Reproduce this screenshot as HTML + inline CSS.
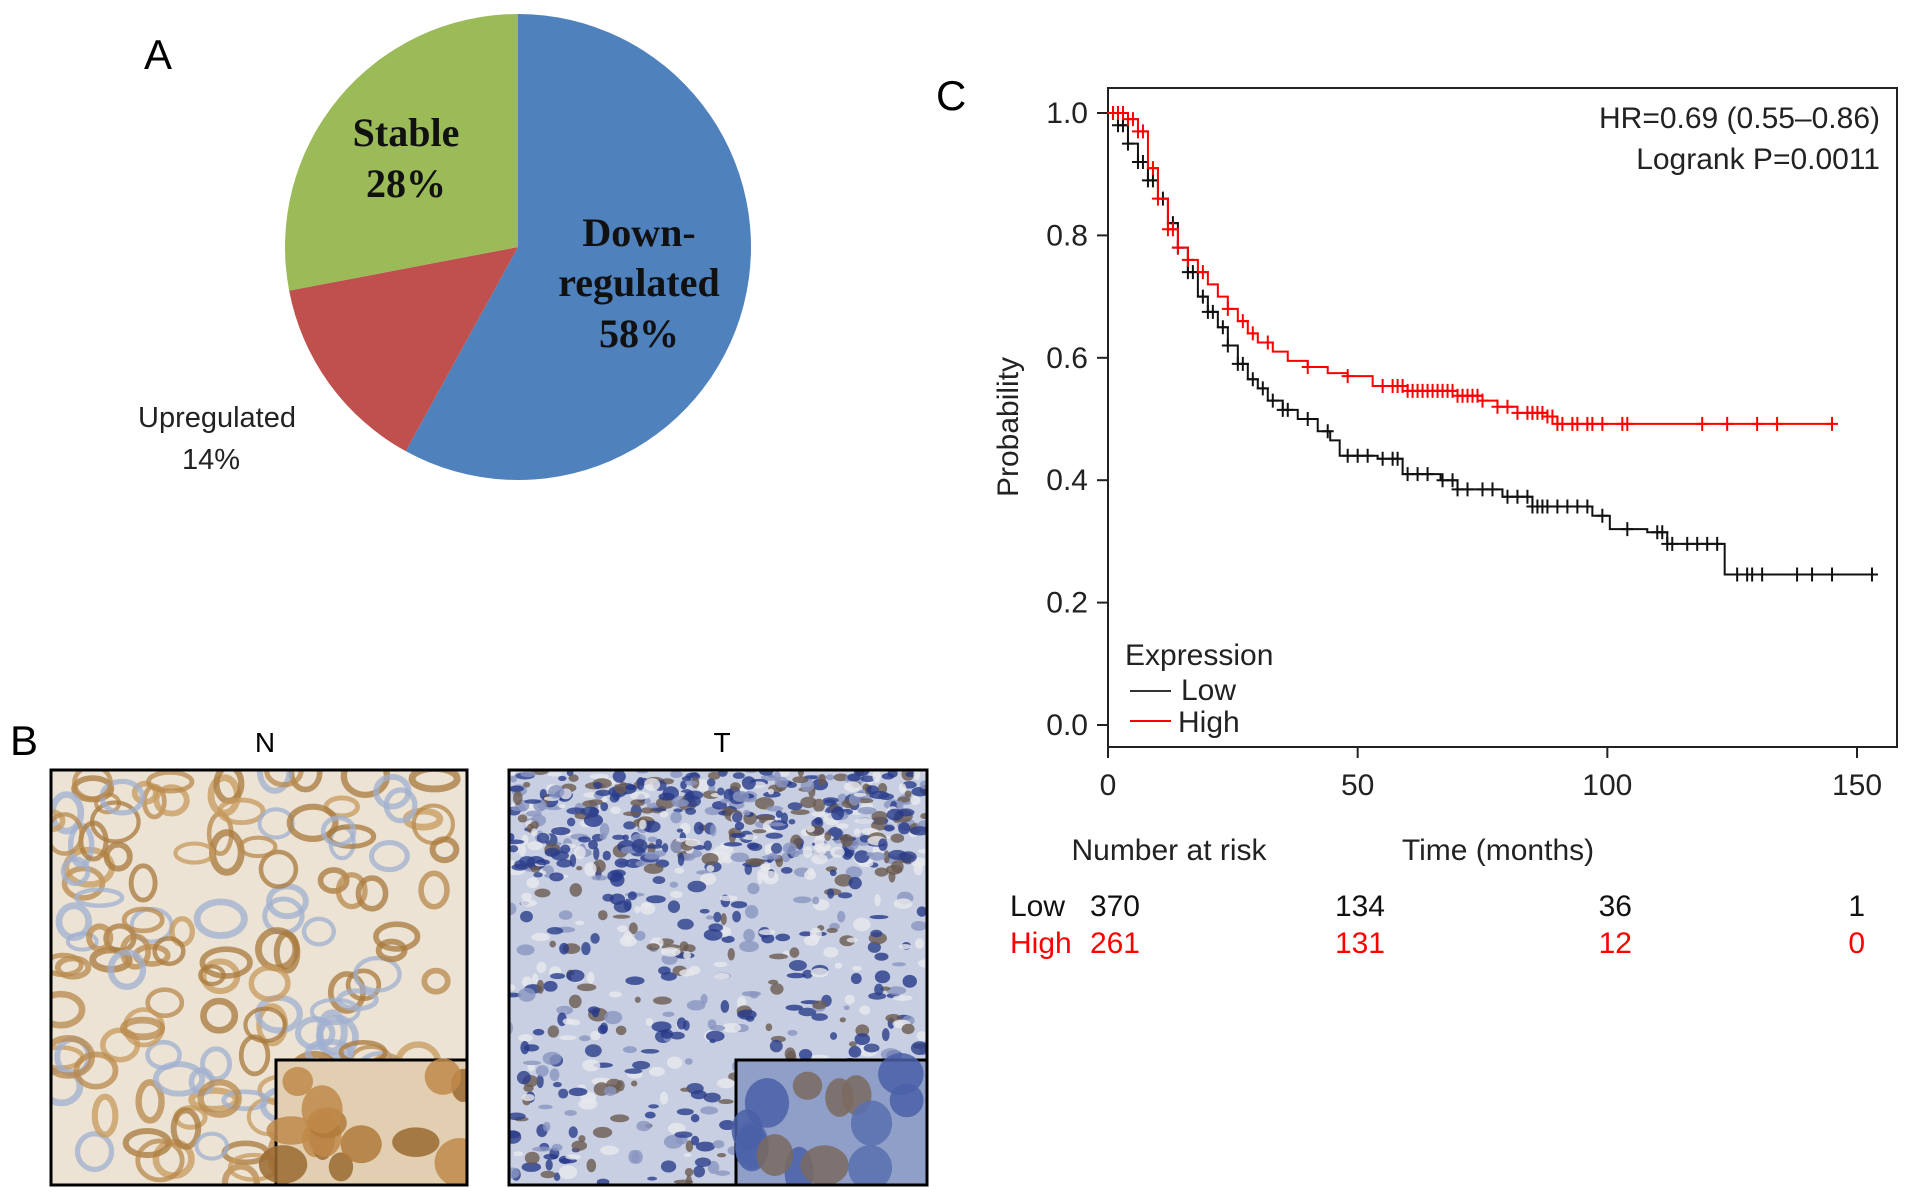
<!DOCTYPE html>
<html><head><meta charset="utf-8">
<style>
html,body{margin:0;padding:0;background:#fff;}
body{width:1913px;height:1200px;overflow:hidden;position:relative;font-family:"Liberation Sans",Arial,sans-serif;}
svg{position:absolute;left:0;top:0;}
</style></head>
<body>
<svg id="fig" width="1913" height="1200" viewBox="0 0 1913 1200" xmlns="http://www.w3.org/2000/svg">
  <g id="pieG"></g>
  <text x="144" y="69" font-size="42" font-family="Liberation Sans, sans-serif">A</text>
  <g font-family="Liberation Serif, serif" font-weight="bold" font-size="40" text-anchor="middle" fill="#111">
    <text x="406" y="146">Stable</text>
    <text x="406" y="197">28%</text>
    <text x="639" y="246">Down-</text>
    <text x="639" y="296">regulated</text>
    <text x="639" y="347">58%</text>
  </g>
  <g font-family="Liberation Sans, sans-serif" font-size="29" text-anchor="middle" fill="#222">
    <text x="217" y="427">Upregulated</text>
    <text x="211" y="469">14%</text>
  </g>

  <text x="10" y="755" font-size="42">B</text>
  <text x="265" y="752" font-size="28" text-anchor="middle">N</text>
  <text x="722" y="752" font-size="28" text-anchor="middle">T</text>
  <g id="histN"></g>
  <g id="histT"></g>

  <text x="936" y="110" font-size="42">C</text>
  <g id="km"></g>
</svg>
<script>
// ---- pie data ----
const pieLabels = ["Down-regulated","Upregulated","Stable"];
const pieValues = [58,14,28];
const pieColors = ["#4f81bd","#c0504d","#9bbb59"];

// ---- KM data ----
const xTicks = [0,50,100,150];
const yTicks = [0.0,0.2,0.4,0.6,0.8,1.0];
const yTickLabels = ["0.0","0.2","0.4","0.6","0.8","1.0"];
const lowTimes = [0,2,4,6,8,10,12,14,16,18,20,22,24,26,28,30,32,35,38,42,44.5,46.4,54,59,66.6,70,79,85,97,100.5,108,112,123.5,153];
const lowSurv  = [1.0,0.98,0.95,0.92,0.89,0.86,0.82,0.78,0.74,0.70,0.675,0.65,0.62,0.59,0.565,0.55,0.53,0.515,0.50,0.48,0.465,0.44,0.435,0.41,0.40,0.385,0.373,0.357,0.342,0.32,0.315,0.296,0.246,0.246];
const highTimes = [0,4,6,8,10,12,14,16,18,20,22,24,26,28,30,33,36,40,44,48,53,60,70,75,78,82,88,90,145];
const highSurv  = [1.0,0.99,0.97,0.91,0.86,0.81,0.78,0.76,0.74,0.72,0.70,0.68,0.66,0.64,0.625,0.61,0.595,0.585,0.575,0.57,0.554,0.546,0.538,0.53,0.52,0.51,0.504,0.492,0.492];
const lowCensor = [1,2,3,4,6,7,8,9,11,13,14,16,17,19,20,21,23,24,26,27,29,31,33,35,36,40,44,48,50,52,55,57,58,60,62,64,67,69,70,72,75,77,80,82,84,85,86,87,88,90,92,94,96,99,104,110,111,112,113,116,118,120,122,126,128,129,131,138,141,145,153];
const highCensor = [1,2,3,4,5,6,7,9,10,12,13,14,16,19,24,27,29,32,40,48,55,57,58,59,60,61,62,63,64,65,66,67,68,69,70,71,72,73,74,75,78,80,82,84,85,86,87,88,89,90,91,93,94,96,97,99,103,104,119,124,130,134,145];
const riskLow = ["370","134","36","1"];
const riskHigh = ["261","131","12","0"];

const NS="http://www.w3.org/2000/svg";
function mk(tag,attrs,parent){const e=document.createElementNS(NS,tag);for(const k in attrs)e.setAttribute(k,attrs[k]);parent.appendChild(e);return e;}

// pie
(function(){
  const g=document.getElementById('pieG');
  const cx=518,cy=247,r=233;
  const total=pieValues.reduce((a,b)=>a+b,0);
  let a0=0;
  pieValues.forEach((v,i)=>{
    const a1=a0+v/total*2*Math.PI;
    const x0=cx+r*Math.sin(a0),y0=cy-r*Math.cos(a0),x1=cx+r*Math.sin(a1),y1=cy-r*Math.cos(a1);
    const large=(a1-a0)>Math.PI?1:0;
    const p=mk('path',{d:`M${cx},${cy}L${x0},${y0}A${r},${r} 0 ${large} 1 ${x1},${y1}Z`,fill:pieColors[i]},g);
    
    
    a0=a1;
  });
})();

// histology placeholders (decorative texture)
function rng(seed){return function(){seed=(seed*16807)%2147483647;return seed/2147483647;};}
function hist(id,x,y,w,h,bg,cols,n,ix,iw,ih,ibg,icols,seed,ring,topDark){
  const g=document.getElementById(id);
  const cpId=id+'clip';
  const defs=mk('defs',{},g);const cp=mk('clipPath',{id:cpId},defs);mk('rect',{x,y,width:w,height:h},cp);
  const gg=mk('g',{'clip-path':`url(#${cpId})`},g);
  mk('rect',{x,y,width:w,height:h,fill:bg},gg);
  const R=rng(seed);
  for(let i=0;i<n;i++){
    const c=cols[Math.floor(R()*cols.length)];
    const ex=x+R()*w;
    let ey=y+R()*h;
    if(topDark && R()<0.35) ey=y+R()*h*0.25;
    const rx=ring?10+R()*14:3+R()*7,ry=ring?8+R()*12:2+R()*5;
    if(ring) mk('ellipse',{cx:ex,cy:ey,rx,ry,fill:'none',stroke:c,'stroke-width':4+R()*3,opacity:0.75},gg);
    else mk('ellipse',{cx:ex,cy:ey,rx,ry,fill:c,opacity:0.8},gg);
  }
  mk('rect',{x:ix,y:y+h-ih,width:iw,height:ih,fill:ibg,stroke:'#000','stroke-width':3},gg);
  for(let i=0;i<14;i++){
    const c=icols[Math.floor(R()*icols.length)];
    mk('ellipse',{cx:ix+R()*iw,cy:y+h-ih+R()*ih,rx:12+R()*14,ry:14+R()*12,fill:c,opacity:0.85},gg);
  }
  mk('rect',{x,y,width:w,height:h,fill:'none',stroke:'#000','stroke-width':3},g);
}
hist('histN',51,770,416,415,'#ece3d4',['#b88a4c','#c79a5c','#a87a3c','#a0b0d0'],150,276,191,125,'#e2cfb2',['#b07a3a','#c08a4a','#9a6a30'],7,true,false);
hist('histT',509,770,418,415,'#c8cfe2',['#2c3f8c','#26388a','#6a5a50','#8a95c0','#e8e8ee'],950,736,191,125,'#8f9fc8',['#5870b0','#7a6a60','#4a60a8'],13,false,true);

// KM chart
(function(){
  const g=document.getElementById('km');
  const L=1108,R=1897,T=88,B=747;
  const xs=t=>1108+t*(1857-1108)/150;
  const ys=p=>725-p*612;
  const box=mk('rect',{x:L,y:T,width:R-L,height:B-T,fill:'none',stroke:'#222','stroke-width':2},g);
  
  
  xTicks.forEach(t=>{
    mk('line',{x1:xs(t),x2:xs(t),y1:B,y2:B+11,stroke:'#222','stroke-width':2},g);
    const tx=mk('text',{x:xs(t),y:795,'font-size':30,'text-anchor':'middle',fill:'#222'},g);tx.textContent=t;
    
    
  });
  yTicks.forEach((p,i)=>{
    mk('line',{x1:L-11,x2:L,y1:ys(p),y2:ys(p),stroke:'#222','stroke-width':2},g);
    const tx=mk('text',{x:1088,y:ys(p)+10,'font-size':30,'text-anchor':'end',fill:'#222'},g);tx.textContent=yTickLabels[i];
    
    
  });
  const yl=mk('text',{x:0,y:0,'font-size':30,'text-anchor':'middle',fill:'#222',transform:'translate(1018,427) rotate(-90)'},g);yl.textContent='Probability';
  
  
  function surv(times,vals,t){let v=vals[0];for(let i=0;i<times.length;i++){if(times[i]<=t)v=vals[i];}return v;}
  function series(times,vals,cens,col,name){
    let d=`M${xs(times[0])},${ys(vals[0])}`;
    for(let i=1;i<times.length;i++){d+=`H${xs(times[i])}V${ys(vals[i])}`;}
    const p=mk('path',{d,fill:'none',stroke:col,'stroke-width':2},g);
    
    
    cens.forEach(t=>{
      const x=xs(t),y=ys(surv(times,vals,t));
      const c=mk('path',{d:`M${x-6},${y}H${x+6}M${x},${y-7}V${y+7}`,stroke:col,'stroke-width':2},g);
      
      
    });
  }
  series(lowTimes,lowSurv,lowCensor,'#111','low');
  series(highTimes,highSurv,highCensor,'#f00','high');
  const t1=mk('text',{x:1880,y:128,'font-size':30,'text-anchor':'end',fill:'#222'},g);t1.textContent='HR=0.69 (0.55\u20130.86)';
  
  
  const t2=mk('text',{x:1880,y:169,'font-size':30,'text-anchor':'end',fill:'#222'},g);t2.textContent='Logrank P=0.0011';
  
  
  const le=mk('text',{x:1125,y:665,'font-size':30,fill:'#222'},g);le.textContent='Expression';
  
  
  mk('line',{x1:1130,x2:1171,y1:691,y2:691,stroke:'#333','stroke-width':2},g);
  const l1=mk('text',{x:1181,y:700,'font-size':30,fill:'#222'},g);l1.textContent='Low';
  
  
  mk('line',{x1:1130,x2:1171,y1:721,y2:721,stroke:'#f00','stroke-width':2},g);
  const l2=mk('text',{x:1178,y:732,'font-size':30,fill:'#222'},g);l2.textContent='High';
  
  
  const nr=mk('text',{x:1169,y:860,'font-size':30,'text-anchor':'middle',fill:'#222'},g);nr.textContent='Number at risk';
  
  
  const tm=mk('text',{x:1498,y:860,'font-size':30,'text-anchor':'middle',fill:'#222'},g);tm.textContent='Time (months)';
  
  
  const rl=mk('text',{x:1010,y:916,'font-size':30,fill:'#111'},g);rl.textContent='Low';
  
  
  const rh=mk('text',{x:1010,y:953,'font-size':30,fill:'#f00'},g);rh.textContent='High';
  
  
  const rightX=[1140,1385,1632,1865];
  xTicks.forEach((t,i)=>{
    const a=mk('text',{x:rightX[i],y:916,'font-size':30,'text-anchor':'end',fill:'#111'},g);a.textContent=riskLow[i];
    
    
    const b=mk('text',{x:rightX[i],y:953,'font-size':30,'text-anchor':'end',fill:'#f00'},g);b.textContent=riskHigh[i];
    
    
  });
})();
</script>
</body></html>
